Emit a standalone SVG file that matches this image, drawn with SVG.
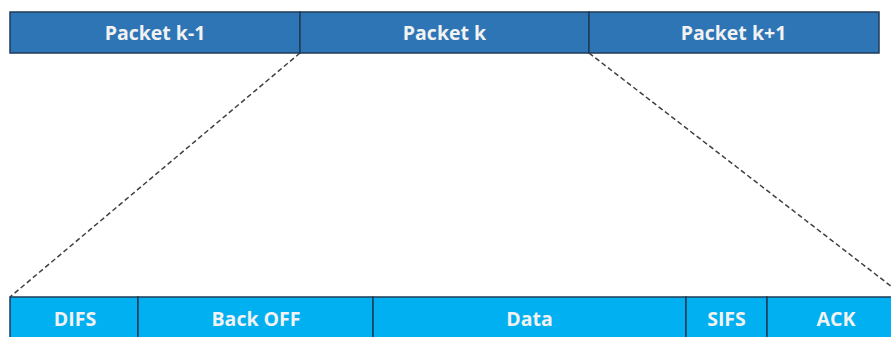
<svg xmlns="http://www.w3.org/2000/svg" width="891" height="337" viewBox="0 0 891 337">
  <style>
    .top { fill: #2E75B6; stroke: #1F3B57; stroke-width: 1.5; }
    .bot { fill: #00B0F0; stroke: #1F3B57; stroke-width: 1.5; }
    .lbl { font-family: "Open Sans", "Liberation Sans", sans-serif; font-weight: bold; font-size: 19.5px; fill: #F2F2F2; text-anchor: middle; dominant-baseline: central; }
    .dash { stroke: #404040; stroke-width: 1.5; stroke-dasharray: 5 3; fill: none; }
  </style>
  <rect width="891" height="337" fill="#FFFFFF"/>

  <!-- connectors: zoom lines from packet k to its frame breakdown -->
  <g id="connectors">
    <line class="dash" x1="300" y1="53" x2="10" y2="297"/>
    <line class="dash" x1="589" y1="53" x2="905" y2="297"/>
  </g>

  <!-- packet sequence -->
  <g id="packet-k-1">
    <rect class="top" x="10" y="12" width="290" height="41"/>
    <text class="lbl" x="155" y="32.5">Packet k-1</text>
  </g>
  <g id="packet-k">
    <rect class="top" x="300" y="12" width="289" height="41"/>
    <text class="lbl" x="444.5" y="32.5">Packet k</text>
  </g>
  <g id="packet-k+1">
    <rect class="top" x="589" y="12" width="290" height="41"/>
    <text class="lbl" x="733.5" y="32.5">Packet k+1</text>
  </g>

  <!-- frame exchange of packet k -->
  <g id="difs">
    <rect class="bot" x="10" y="297" width="128" height="50"/>
    <text class="lbl" x="75" y="318.5">DIFS</text>
  </g>
  <g id="backoff">
    <rect class="bot" x="138" y="297" width="235" height="50"/>
    <text class="lbl" x="256" y="318.5">Back OFF</text>
  </g>
  <g id="data">
    <rect class="bot" x="373" y="297" width="313" height="50"/>
    <text class="lbl" x="529.5" y="318.5">Data</text>
  </g>
  <g id="sifs">
    <rect class="bot" x="686" y="297" width="81" height="50"/>
    <text class="lbl" x="726.5" y="318.5">SIFS</text>
  </g>
  <g id="ack">
    <rect class="bot" x="767" y="297" width="140" height="50"/>
    <text class="lbl" x="836" y="318.5">ACK</text>
  </g>
</svg>
